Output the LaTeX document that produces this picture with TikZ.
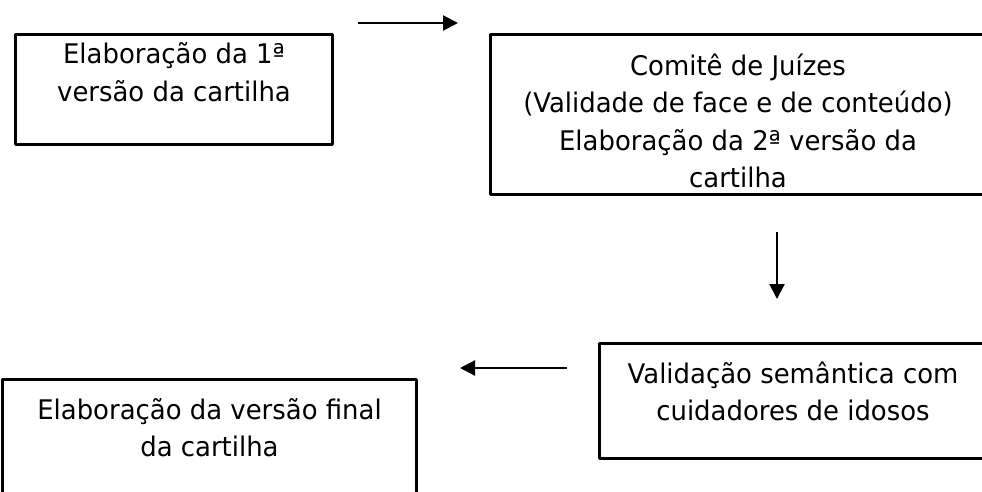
\documentclass[tikz,border=0pt]{standalone}
\usepackage{fontspec}
\setmainfont{DejaVu Sans}[FakeStretch=0.96]
\usetikzlibrary{arrows.meta}
\begin{document}
\begin{tikzpicture}[x=1pt,y=-1pt,>={Triangle[length=15pt,width=15pt]},line join=round,
	font=\fontsize{27}{37.5}\selectfont,
	etapa/.style={draw,line width=3pt,anchor=north west,align=center,inner ysep=0pt,inner xsep=0pt},
	seta/.style={->,line width=2.2pt}]
			\useasboundingbox (0,0) rectangle (982,492);
			\clip (0,0) rectangle (982,492);
			\node[etapa,minimum width=317pt,text height=67pt,text depth=43pt] (elab1) at (14,33) {Elaboração da 1ª\\versão da cartilha};
			\node[etapa,minimum width=495pt,text height=153pt,text depth=7pt] (comite) at (489,33) {Comitê de Juízes\\(Validade de face e de conteúdo)\\Elaboração da 2ª versão da\\cartilha};
			\node[etapa,minimum width=387pt,text height=77pt,text depth=38pt] (valid) at (598,342) {Validação semântica com\\cuidadores de idosos};
			\node[etapa,minimum width=414pt,text height=77pt,text depth=90pt] (final) at (1,378) {Elaboração da versão final\\da cartilha};
			\coordinate (s1a) at (358,23);
			\coordinate (s1b) at (458,23);
			\coordinate (s2a) at (777,232);
			\coordinate (s2b) at (777,299);
			\coordinate (s3a) at (567,368);
			\coordinate (s3b) at (460,368);
			\draw[seta] (s1a)--(s1b);
			\draw[seta] (s2a)--(s2b);
			\draw[seta] (s3a)--(s3b);
		\end{tikzpicture}
\end{document}
